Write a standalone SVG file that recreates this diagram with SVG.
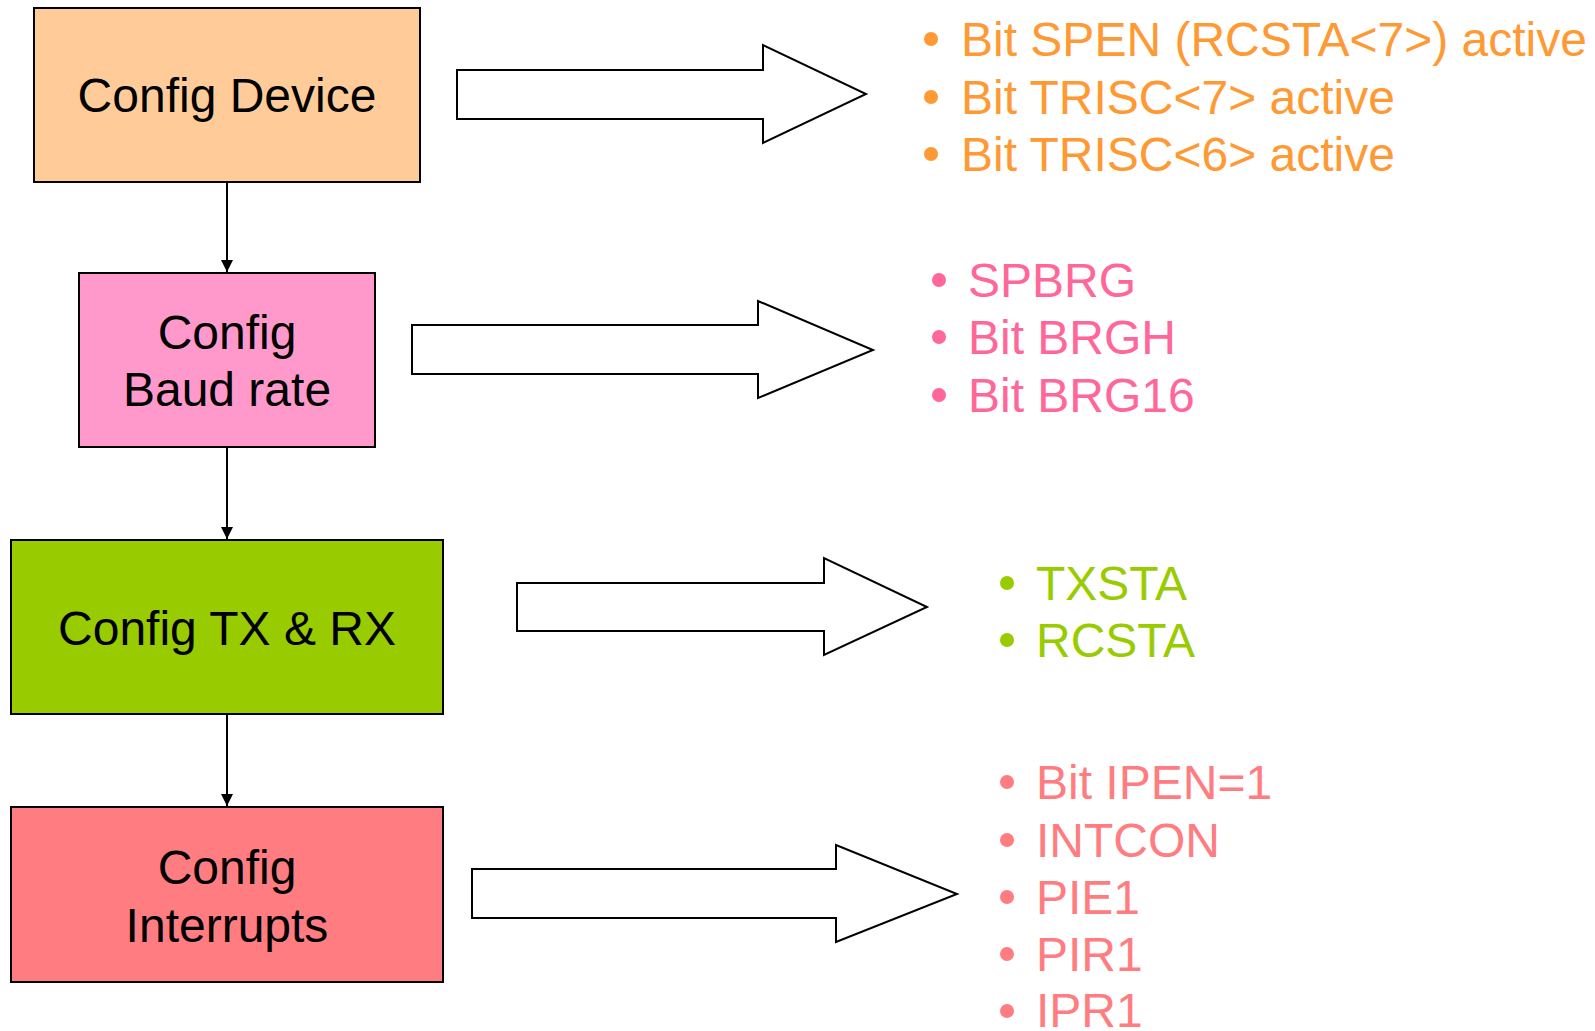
<svg xmlns="http://www.w3.org/2000/svg" width="1595" height="1031" viewBox="0 0 1595 1031">
<style>
.box{stroke:#000;stroke-width:2}
.lbl{font-family:"Liberation Sans",Arial,sans-serif;font-size:48px;fill:#000;text-anchor:middle}
.big{fill:#fff;stroke:#000;stroke-width:2;stroke-linejoin:miter}
.con{stroke:#000;stroke-width:2;fill:none}
.li{font-family:"Liberation Sans",Arial,sans-serif;font-size:48px}
.o{fill:#FF9933}.p{fill:#FF6699}.g{fill:#99CC00}.r{fill:#FF7C80}
</style>
<defs>
<marker id="ah" markerWidth="12" markerHeight="12" refX="10" refY="5" orient="auto" markerUnits="userSpaceOnUse" viewBox="0 0 10 10">
<path d="M0,0 L10,5 L0,10 Z" fill="#000"/>
</marker>
</defs>
<rect width="1595" height="1031" fill="#fff"/>
<g id="connectors">
<line class="con" x1="227" y1="182" x2="227" y2="272" marker-end="url(#ah)"/>
<line class="con" x1="227" y1="447" x2="227" y2="539" marker-end="url(#ah)"/>
<line class="con" x1="227" y1="714" x2="227" y2="806" marker-end="url(#ah)"/>
<polygon class="big" points="457,70 763,70 763,45 866,94 763,143 763,119 457,119"/>
<polygon class="big" points="412,325 758,325 758,301 873,350 758,398 758,374 412,374"/>
<polygon class="big" points="517,583 824,583 824,558 927,607 824,655 824,631 517,631"/>
<polygon class="big" points="472,869 836,869 836,845 957,894 836,942 836,918 472,918"/>
</g>
<g id="n1">
<rect class="box" x="34" y="8" width="386" height="174" fill="#FFCC99"/>
<text class="lbl" x="227" y="112">Config Device</text>
</g>
<g id="n2">
<rect class="box" x="79" y="273" width="296" height="174" fill="#FF99CC"/>
<text class="lbl" x="227" y="349">Config</text>
<text class="lbl" x="227" y="406">Baud rate</text>
</g>
<g id="n3">
<rect class="box" x="11" y="540" width="432" height="174" fill="#99CC00"/>
<text class="lbl" x="227" y="645">Config TX &amp; RX</text>
</g>
<g id="n4">
<rect class="box" x="11" y="807" width="432" height="175" fill="#FF7C80"/>
<text class="lbl" x="227" y="884">Config</text>
<text class="lbl" x="227" y="942">Interrupts</text>
</g>
<g id="list1">
<circle class="o" cx="931" cy="39" r="7"/><text class="li o" x="961" y="56">Bit SPEN (RCSTA&lt;7&gt;) active</text>
<circle class="o" cx="931" cy="97" r="7"/><text class="li o" x="961" y="114">Bit TRISC&lt;7&gt; active</text>
<circle class="o" cx="931" cy="154" r="7"/><text class="li o" x="961" y="171">Bit TRISC&lt;6&gt; active</text>
</g>
<g id="list2">
<circle class="p" cx="939" cy="280" r="7"/><text class="li p" x="968" y="297">SPBRG</text>
<circle class="p" cx="939" cy="337" r="7"/><text class="li p" x="968" y="354">Bit BRGH</text>
<circle class="p" cx="939" cy="395" r="7"/><text class="li p" x="968" y="412">Bit BRG16</text>
</g>
<g id="list3">
<circle class="g" cx="1007" cy="583" r="7"/><text class="li g" x="1036" y="600">TXSTA</text>
<circle class="g" cx="1007" cy="640" r="7"/><text class="li g" x="1036" y="657">RCSTA</text>
</g>
<g id="list4">
<circle class="r" cx="1007" cy="782" r="7"/><text class="li r" x="1036" y="799">Bit IPEN=1</text>
<circle class="r" cx="1007" cy="840" r="7"/><text class="li r" x="1036" y="857">INTCON</text>
<circle class="r" cx="1007" cy="897" r="7"/><text class="li r" x="1036" y="914">PIE1</text>
<circle class="r" cx="1007" cy="954" r="7"/><text class="li r" x="1036" y="971">PIR1</text>
<circle class="r" cx="1007" cy="1011" r="7"/><text class="li r" x="1036" y="1027">IPR1</text>
</g>
</svg>
